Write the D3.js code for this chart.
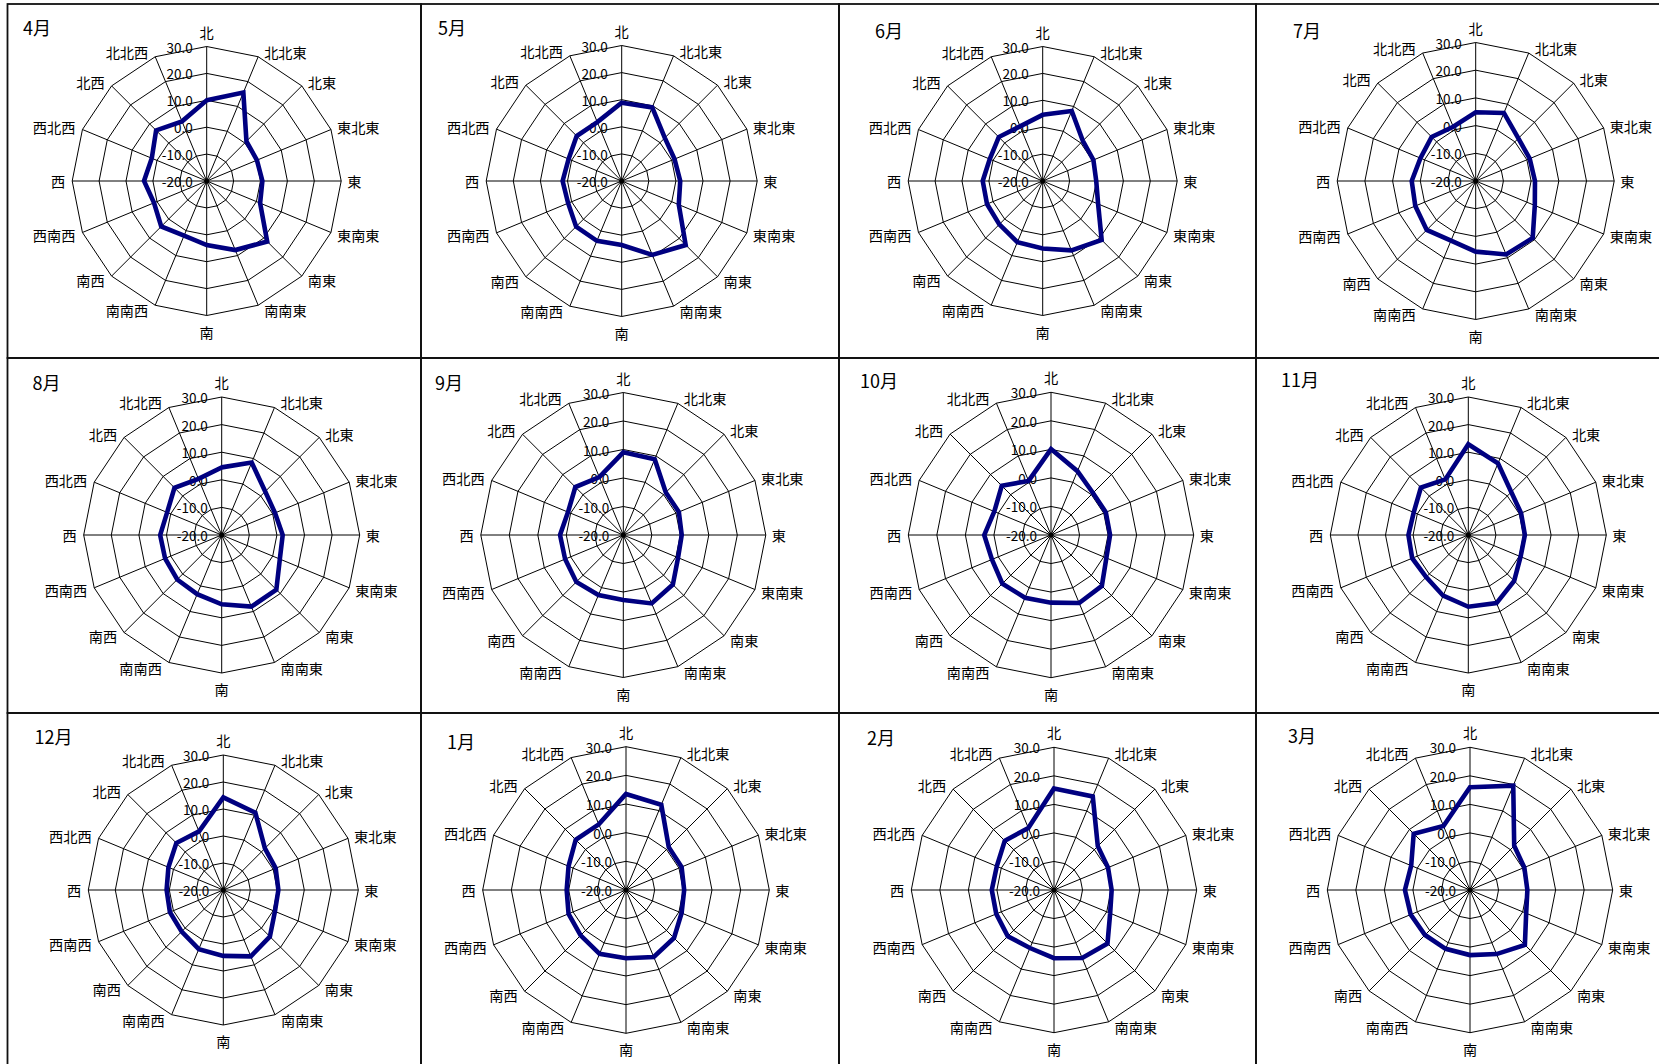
<!DOCTYPE html>
<html><head><meta charset="utf-8">
<script src="https://cdn.jsdelivr.net/npm/d3@7"></script>
<style>
body{margin:0;background:#fff;overflow:hidden}
text{font-family:"Noto Sans CJK JP","Noto Sans",sans-serif;fill:#000}
</style>
</head><body>
<svg id="chart" width="1659" height="1064"></svg>
<script>
// ---- data ----
const directions = ["北","北北東","北東","東北東","東","東南東","南東","南南東","南","南南西","南西","西南西","西","西北西","北西","北北西"];
const months = ["4月","5月","6月","7月","8月","9月","10月","11月","12月","1月","2月","3月"];
const apr = [10.0, 15.6, 0.9, 0.2, 0.7, 1.5, 11.8, 7.8, 3.8, 2.0, 3.9, 1.2, 3.3, 2.1, 6.6, 4.0];
const may = [8.9, 9.4, 2.5, 1.1, 1.6, 2.8, 13.4, 9.5, 3.6, 3.9, 3.8, 1.4, 1.8, 1.2, 3.5, 3.5];
const jun = [4.6, 8.2, 1.1, 0.4, -0.1, 2.3, 11.0, 7.9, 5.1, 4.6, 2.8, 2.4, 2.3, 1.3, 3.1, 2.0];
const jul = [4.8, 6.6, 1.8, 1.1, 1.4, 3.1, 9.1, 8.7, 5.5, 3.3, 5.0, 3.6, 3.1, 1.6, 2.5, 1.2];
const aug = [4.5, 8.4, 2.3, 0.9, 2.1, 2.8, 8.0, 8.1, 5.1, 3.2, 2.8, 2.2, 2.3, 1.4, 4.2, 2.0];
const sep = [9.0, 8.8, 1.1, 1.1, 0.5, 0.8, 4.6, 6.0, 2.8, 2.8, 3.3, 2.1, 2.2, 1.0, 3.8, 2.0];
const oct = [10.1, 4.2, 0.8, 0.8, 0.7, 1.0, 5.2, 5.8, 3.7, 3.8, 4.1, 2.4, 3.4, 1.5, 4.4, 0.5];
const nov = [12.9, 8.1, 2.0, 0.7, 0.5, 0.5, 3.5, 6.7, 6.0, 3.8, 1.6, 2.0, 1.7, 1.4, 4.3, 1.8];
const dec = [14.3, 11.0, 1.8, 1.0, 0.4, 0.7, 4.4, 6.6, 4.4, 3.7, 1.8, 1.4, 1.0, 2.0, 4.6, 3.5];
const jan = [13.5, 12.2, 1.1, 1.0, 0.3, 1.0, 3.7, 5.3, 3.8, 4.1, 2.4, 1.7, 0.7, 1.7, 4.8, 4.8];
const feb = [15.6, 15.5, 1.7, 0.5, 0.2, 1.3, 6.5, 5.8, 3.9, 2.0, 2.9, 1.9, 1.8, 1.7, 4.4, 3.5];
const mar = [16.0, 19.6, 1.9, 0.6, 0.1, 1.3, 7.2, 4.3, 2.8, 2.3, 2.3, 2.5, 2.8, 2.3, 7.9, 4.3];
const tickValues = [-20, -10, 0, 10, 20, 30];
const tickLabels = ["-20.0", "-10.0", "0.0", "10.0", "20.0", "30.0"];

const seriesValues = [apr, may, jun, jul, aug, sep, oct, nov, dec, jan, feb, mar];

// ---- layout (positions only) ----
const colX = [7.5, 421, 839, 1256], colW = [413.5, 418, 417, 417];
const rowY = [4, 358, 713], rowH = [354, 355, 355];
const panelLayout = [
  {cx:199.2, R:134.5, tx:15.5, ty:31}, {cx:200.7, R:135.5, tx:17, ty:31},
  {cx:203.7, R:134.5, tx:36, ty:34},   {cx:219.7, R:138.5, tx:37, ty:34},
  {cx:214.2, R:138,   tx:25, ty:32},   {cx:202.3, R:142.5, tx:14, ty:32},
  {cx:212,   R:142.7, tx:21, ty:30},   {cx:212.3, R:138,   tx:25, ty:29},
  {cx:215.8, R:135,   tx:27, ty:31},   {cx:205,   R:143.3, tx:26, ty:36},
  {cx:215,   R:142.7, tx:28, ty:32},   {cx:214,   R:142.7, tx:32, ty:30}
];

const svg = d3.select("#chart");
svg.append("rect").attr("width",1659).attr("height",1064).attr("fill","#fff");
const angle = d3.scaleLinear().domain([0, directions.length]).range([0, 2*Math.PI]);

months.forEach((m, i) => {
  const c = i % 4, r = Math.floor(i / 4);
  const L = panelLayout[i];
  const x0 = colX[c], y0 = rowY[r];
  const cx = x0 + L.cx, cy = y0 + 177;
  const rScale = d3.scaleLinear().domain([tickValues[0], tickValues[tickValues.length-1]]).range([0, L.R]);
  const g = svg.append("g");

  g.append("rect").attr("x", x0).attr("y", y0).attr("width", colW[c]).attr("height", rowH[r])
    .attr("fill", "none").attr("stroke", "#111").attr("stroke-width", 1.8);

  const plot = g.append("g").attr("transform", `translate(${cx},${cy})`);

  // rings
  tickValues.slice(1).forEach(v => {
    plot.append("path")
      .attr("d", d3.lineRadial().angle((d, j) => angle(j)).radius(rScale(v)).curve(d3.curveLinearClosed)(directions))
      .attr("fill", "none").attr("stroke", "#000").attr("stroke-width", 1);
  });
  // spokes
  directions.forEach((d, j) => {
    const a = angle(j), rr = rScale(tickValues[tickValues.length-1]);
    plot.append("line").attr("x1", 0).attr("y1", 0)
      .attr("x2", rr*Math.sin(a)).attr("y2", -rr*Math.cos(a))
      .attr("stroke", "#000").attr("stroke-width", 1);
  });
  plot.append("circle").attr("r", 2.6).attr("fill", "#000");

  // tick labels
  tickValues.forEach((v, k) => {
    plot.append("text").attr("x", -14).attr("y", -rScale(v))
      .attr("text-anchor", "end").attr("dominant-baseline", "central")
      .attr("font-size", 13.5).text(tickLabels[k]);
  });

  // category labels
  directions.forEach((d, j) => {
    const a = angle(j), rr = rScale(tickValues[tickValues.length-1]);
    const sx = Math.sin(a), cy_ = -Math.cos(a);
    const vx = rr*sx, vy = rr*cy_;
    let x, y, anchor;
    if (Math.abs(sx) < 0.01) { x = vx; y = vy + (cy_ < 0 ? -15 : 16); anchor = "middle"; }
    else { x = vx + (sx > 0 ? 6 : -7); y = vy + 5.5*cy_; anchor = sx > 0 ? "start" : "end"; }
    plot.append("text").attr("x", x).attr("y", y)
      .attr("text-anchor", anchor).attr("dominant-baseline", "central")
      .attr("font-size", 14.2).text(d);
  });

  // data line
  plot.append("path")
    .attr("d", d3.lineRadial().angle((d, j) => angle(j)).radius(d => rScale(d)).curve(d3.curveLinearClosed)(seriesValues[i]))
    .attr("fill", "none").attr("stroke", "#000080").attr("stroke-width", 4.6).attr("stroke-linejoin", "miter");

  // title
  g.append("text").attr("x", x0 + L.tx).attr("y", y0 + L.ty)
    .attr("font-size", 18).text(m);
});
</script>
</body></html>
